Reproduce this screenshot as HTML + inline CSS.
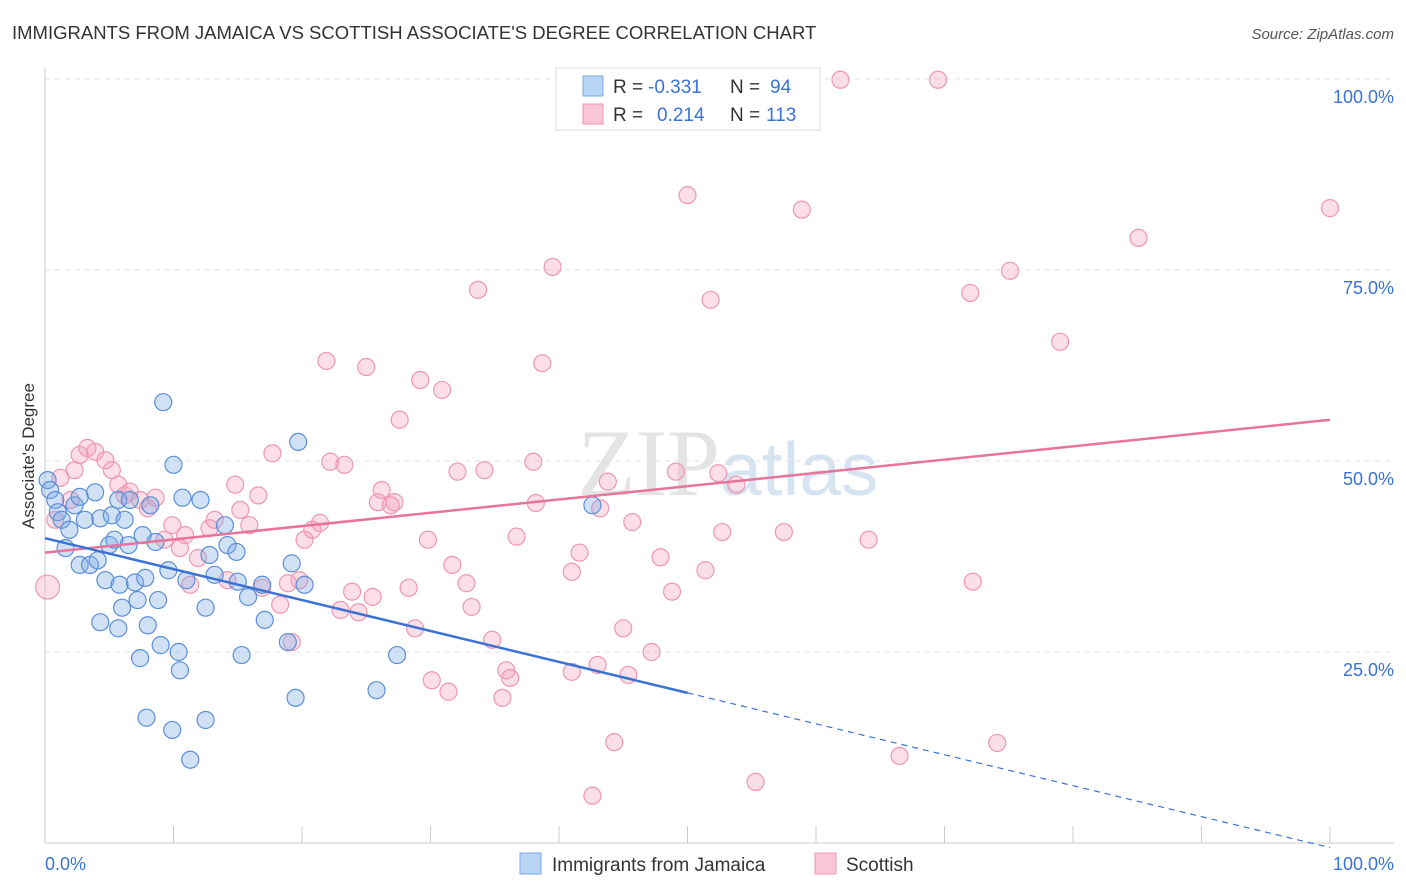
<!DOCTYPE html>
<html><head><meta charset="utf-8"><style>
body{margin:0;background:#fff;font-family:"Liberation Sans",sans-serif;}
#wrap{position:relative;width:1406px;height:892px;overflow:hidden}
</style></head><body>
<div id="wrap">
<svg id="svg" width="1406" height="892">
<text x="12" y="39" font-size="18.5" fill="#333">IMMIGRANTS FROM JAMAICA VS SCOTTISH ASSOCIATE'S DEGREE CORRELATION CHART</text>
<text x="1394" y="39" font-size="15" fill="#555" font-style="italic" text-anchor="end">Source: ZipAtlas.com</text>
<text x="34" y="456" font-size="17" fill="#333" text-anchor="middle" transform="rotate(-90 34 456)">Associate's Degree</text>
<text x="720" y="495" font-size="95" fill="#e4e4e4" font-family="Liberation Serif,serif" text-anchor="end">ZIP</text>
<text x="720" y="495" font-size="75" fill="#d6e4f2">atlas</text>
<g id="grid"></g><g id="pts"></g><g id="trend"></g>
<g>
<rect x="556" y="68" width="264" height="62" fill="#fff" stroke="#ddd"/>
<rect x="583" y="76" width="20" height="20" fill="#b8d4f5" stroke="#7aa8e0"/>
<rect x="583" y="104" width="20" height="20" fill="#f9c6d6" stroke="#ee97b2"/>
<text x="613" y="93" font-size="19" fill="#333">R =</text>
<text x="648" y="93" font-size="19" fill="#3a72d6">-0.331</text>
<text x="730" y="93" font-size="19" fill="#333">N =</text>
<text x="770" y="93" font-size="19" fill="#3a72d6">94</text>
<text x="613" y="121" font-size="19" fill="#333">R =</text>
<text x="657" y="121" font-size="19" fill="#3a72d6">0.214</text>
<text x="730" y="121" font-size="19" fill="#333">N =</text>
<text x="766" y="121" font-size="19" fill="#3a72d6">113</text>
</g>
<g>
<rect x="520" y="853" width="21" height="21" fill="#b8d4f5" stroke="#7aa8e0"/>
<text x="552" y="871" font-size="19" fill="#333">Immigrants from Jamaica</text>
<rect x="815" y="853" width="21" height="21" fill="#f9c6d6" stroke="#ee97b2"/>
<text x="846" y="871" font-size="19" fill="#333">Scottish</text>
</g>
<text x="45" y="870" font-size="18" fill="#3a72d6">0.0%</text>
<text x="1394" y="870" font-size="18" fill="#3a72d6" text-anchor="end">100.0%</text>
</svg></div>
<script>
const yTicks=[100,75,50,25];
const yTickLabels=["100.0%","75.0%","50.0%","25.0%"];
const blueX=[0.2,0.4,0.8,1.0,1.3,1.6,1.9,2.3,2.7,3.1,2.7,3.5,3.9,4.3,4.1,4.7,4.3,5.0,5.2,5.7,5.4,5.8,5.7,6.2,6.5,6.0,6.6,7.0,7.2,7.6,7.8,8.0,7.4,8.2,8.6,8.8,9.0,9.2,9.6,10.0,10.4,10.5,10.7,11.0,11.3,7.9,9.9,12.5,12.5,12.8,14.0,14.2,14.9,15.0,15.3,15.8,16.9,17.1,18.9,19.2,19.5,19.7,20.2,25.8,27.4,42.6,12.1,13.2];
const blueY=[47.5,46.2,44.9,43.3,42.3,38.6,41.0,44.2,45.3,42.3,36.4,36.4,45.9,42.5,37.0,34.4,28.9,39.0,42.9,44.9,39.7,33.8,28.1,42.3,39.0,30.8,44.9,34.1,31.8,40.3,34.7,28.5,24.2,44.2,39.4,31.8,25.9,57.7,35.7,49.5,25.0,22.6,45.2,34.4,10.9,16.4,14.8,30.8,16.1,37.7,41.6,39.0,38.1,34.2,24.6,32.2,33.8,29.2,26.3,36.6,19.0,52.5,33.8,20.0,24.6,44.2,44.9,35.1];
const pinkX=[0.2,0.8,1.2,2.0,2.3,2.7,3.3,3.9,4.7,5.2,5.7,6.2,6.6,7.4,8.0,8.6,9.3,9.9,10.5,10.9,11.3,11.9,12.8,13.2,14.2,14.8,15.2,15.9,16.6,16.9,17.7,18.3,18.9,19.2,19.8,20.2,20.8,21.4,21.9,22.2,23.0,23.3,23.9,24.4,25.0,25.5,25.9,26.2,26.9,27.2,27.6,28.3,28.8,29.2,29.8,30.1,30.9,31.4,31.7,32.1,32.8,33.2,33.7,34.2,34.8,35.6,35.9,36.2,36.7,38.0,38.2,38.7,39.5,41.0,41.0,41.6,42.6,43.0,43.2,43.8,44.3,45.0,45.4,45.7,47.2,47.9,48.8,49.1,50.0,51.4,51.8,52.4,52.7,53.8,55.3,57.5,58.9,61.9,64.1,66.5,69.5,72.0,72.2,74.1,75.1,79.0,85.1,100];
const pinkY=[33.5,42.3,47.8,44.9,48.8,50.8,51.7,51.2,50.1,48.8,46.9,45.5,46.0,44.9,43.8,45.2,39.7,41.6,38.6,40.3,33.8,37.3,41.2,42.3,34.4,46.9,43.6,41.6,45.5,33.4,51.0,31.2,34.0,26.3,34.4,39.7,41.0,41.9,63.1,49.9,30.5,49.5,32.9,30.2,62.3,32.2,44.6,46.2,44.2,44.6,55.4,33.4,28.1,60.6,39.7,21.3,59.3,19.8,36.4,48.6,34.0,30.9,72.4,48.8,26.6,19.0,22.6,21.6,40.1,49.9,44.5,62.8,75.4,35.5,22.4,38.0,6.2,23.3,43.8,47.3,13.2,28.1,22.0,42.0,25.0,37.4,32.9,48.6,84.8,35.7,71.1,48.4,40.7,46.9,8.0,40.7,82.9,99.9,39.7,11.4,99.9,72.0,34.2,13.1,74.9,65.6,79.2,83.1];
const blueTrend=[39.9,-0.405];   // intercept, slope
const pinkTrend=[38.0,0.174];
const X=v=>45+v*12.85, Y=v=>843-v*7.64;
const NS="http://www.w3.org/2000/svg";
function mk(t,a,p){const e=document.createElementNS(NS,t);for(const k in a)e.setAttribute(k,a[k]);p.appendChild(e);return e;}
const grid=document.getElementById('grid');
mk('line',{x1:45,y1:68,x2:45,y2:843,stroke:'#ccc'},grid);
mk('line',{x1:45,y1:843,x2:1394,y2:843,stroke:'#ccc'},grid);
for(let i=0;i<=10;i++){const l=mk('line',{x1:X(i*10),y1:826,x2:X(i*10),y2:843,stroke:'#ccc'},grid);

}
yTicks.forEach((t,i)=>{const l=mk('line',{x1:45,y1:Y(t),x2:1394,y2:Y(t),stroke:'#e2e2e2','stroke-dasharray':'5,5'},grid);


const tx=mk('text',{x:1394,y:Y(t)+24,'font-size':18,fill:'#3a72d6','text-anchor':'end'},grid);tx.textContent=yTickLabels[i];

});
const pts=document.getElementById('pts');
pinkX.forEach((x,i)=>{const c=mk('circle',{cx:X(x),cy:Y(pinkY[i]),r:i==0?12:8.5,fill:'rgba(244,160,187,0.35)',stroke:'#ee97b2','stroke-width':1.2},pts);

});
blueX.forEach((x,i)=>{const c=mk('circle',{cx:X(x),cy:Y(blueY[i]),r:8.5,fill:'rgba(120,170,230,0.35)',stroke:'#5b8fd8','stroke-width':1.2},pts);

});
const tr=document.getElementById('trend');
let l=mk('line',{x1:X(0),y1:Y(pinkTrend[0]),x2:X(100),y2:Y(pinkTrend[0]+100*pinkTrend[1]),stroke:'#e8739b','stroke-width':2.5},tr);


l=mk('line',{x1:X(0),y1:Y(blueTrend[0]),x2:X(50),y2:Y(blueTrend[0]+50*blueTrend[1]),stroke:'#3a72d6','stroke-width':2.5},tr);


l=mk('line',{x1:X(50),y1:Y(blueTrend[0]+50*blueTrend[1]),x2:X(100),y2:Y(blueTrend[0]+100*blueTrend[1]),stroke:'#3a72d6','stroke-width':1.2,'stroke-dasharray':'6,5'},tr);


</script>
</body></html>
